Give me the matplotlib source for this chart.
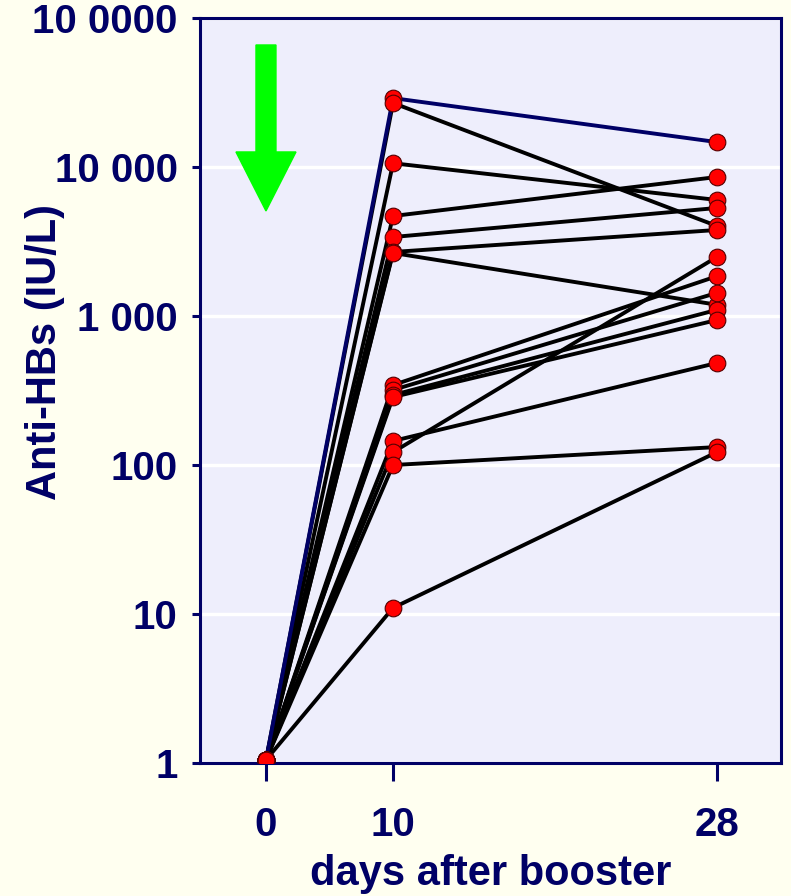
import matplotlib
matplotlib.use("Agg")
import matplotlib.pyplot as plt
from matplotlib.patches import FancyArrow
from matplotlib.ticker import FixedLocator, NullLocator

# ---- data ----
days = [0, 10, 28]
day0 = [1.05] * 15
day10 = [29000, 26900, 10600, 4690, 3390, 2690, 2650, 344, 319, 295, 286, 145, 122, 100, 11.0]
day28 = [14700, 4020, 6010, 8570, 5310, 3780, 1190, 1850, 1430, 1100, 940, 484, 2490, 132, 122]
highlight = 0  # subject drawn in navy
y_ticks = [1, 10, 100, 1000, 10000, 100000]
y_ticklabels = ["1", "10", "100", "1 000", "10 000", "10 0000"]
x_ticklabels = ["0", "10", "28"]
x_label = "days after booster"
y_label = "Anti-HBs (IU/L)"

# layout positions of the three time points along the x axis
x_pos = [0.0, 1.0, 3.55]

NAVY = "#000066"
plt.rcParams["font.family"] = ["Liberation Sans", "DejaVu Sans"]
plt.rcParams["font.weight"] = "bold"

fig = plt.figure(figsize=(7.91, 8.96), dpi=100, facecolor="#FFFFF0")
ax = fig.add_axes([0.2528, 0.1484, 0.7346, 0.8315])
ax.set_facecolor("#EEEEFC")
ax.set_yscale("log")
ax.set_ylim(1, 100000)
ax.set_xlim(-0.52, 4.055)

for i, (a, b, c) in enumerate(zip(day0, day10, day28)):
    if i == highlight:
        continue
    ax.plot(x_pos, [a, b, c], color="black", lw=2.8, zorder=3, solid_capstyle="round")
ax.plot(x_pos, [day0[highlight], day10[highlight], day28[highlight]],
        color=NAVY, lw=2.8, zorder=3.5)

for vals, xp in zip([day0, day10, day28], x_pos):
    ax.plot([xp] * len(vals), vals, linestyle="none", marker="o", markersize=12,
            markerfacecolor="#FF0000", markeredgecolor="#550000", markeredgewidth=0.8,
            zorder=4)

# ticks
ax.yaxis.set_major_locator(FixedLocator(y_ticks))
ax.yaxis.set_minor_locator(NullLocator())
ax.set_yticklabels(y_ticklabels)
ax.set_xticks(x_pos)
ax.set_xticklabels(x_ticklabels)
ax.tick_params(axis="y", direction="out", length=6, width=2.2, color=NAVY,
               labelcolor=NAVY, labelsize=29, pad=10)
ax.tick_params(axis="x", direction="out", length=13, width=2.2, color=NAVY,
               labelcolor=NAVY, labelsize=29, pad=18)
for lab in ax.get_xticklabels() + ax.get_yticklabels():
    lab.set_fontweight("bold")

ax.grid(axis="y", which="major", color="white", lw=2.5, zorder=1)
ax.set_axisbelow(True)

for s in ax.spines.values():
    s.set_color(NAVY)
    s.set_linewidth(2.2)

ax.set_xlabel(x_label, fontsize=30, fontweight="bold", color=NAVY, labelpad=7)
fig.text(45 / 791, 1 - 352 / 896, y_label, rotation=90, ha="center", va="center",
         fontsize=30, fontweight="bold", color=NAVY)

# green arrow
arr = FancyArrow(0.1136, 0.9638, 0, 0.741 - 0.9638, width=0.0344, head_width=0.1033,
                 head_length=0.0792, length_includes_head=True, color="#00FF00",
                 transform=ax.transAxes, zorder=5)
ax.add_patch(arr)

fig.savefig("out.png", dpi=100, facecolor=fig.get_facecolor())
